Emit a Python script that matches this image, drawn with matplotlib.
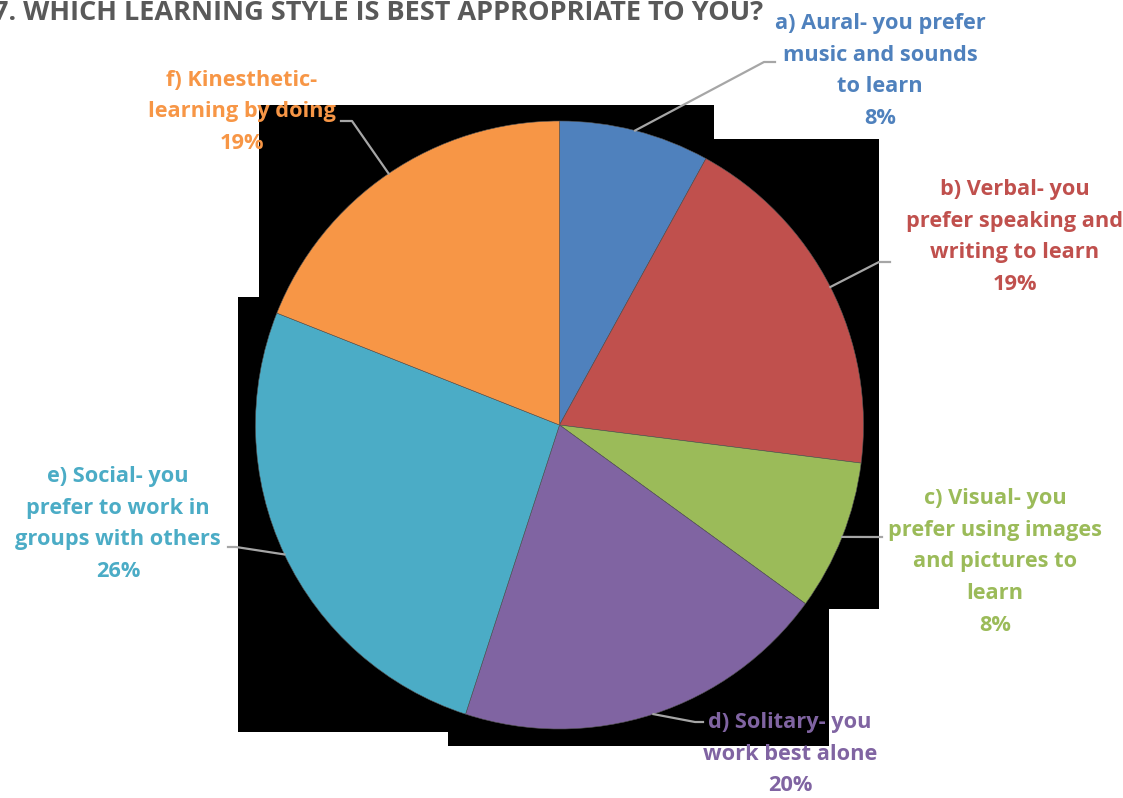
import matplotlib.pyplot as plt
import numpy as np
from matplotlib.patches import Polygon

W, H = 1123, 798

categories = [
    "a) Aural- you prefer\nmusic and sounds\nto learn",
    "b) Verbal- you\nprefer speaking and\nwriting to learn",
    "c) Visual- you\nprefer using images\nand pictures to\nlearn",
    "d) Solitary- you\nwork best alone",
    "e) Social- you\nprefer to work in\ngroups with others",
    "f) Kinesthetic-\nlearning by doing",
]
percentages = [8, 19, 8, 20, 26, 19]
colors = ["#4F81BD", "#C0504D", "#9BBB59", "#8064A2", "#4BACC6", "#F79646"]

# label block centres and leader elbows, in pixel coords (y down)
label_pos = [(880, 71), (1015, 237), (995, 562), (790, 754), (118, 524), (242, 112)]
leader_elbow = [(764, 62), (879, 262), (870, 537), (695, 722), (236, 547), (352, 121)]
leader_end = [(775, 62), (890, 262), (882, 537), (703, 722), (228, 547), (341, 121)]

title = "7. WHICH LEARNING STYLE IS BEST APPROPRIATE TO YOU?"

# black backing left behind by the chart export
backdrop = [(259, 105), (714, 105), (714, 139), (879, 139), (879, 609), (829, 609),
            (829, 746), (448, 746), (448, 732), (238, 732), (238, 297), (259, 297)]

CX, CY, R = 559.5, 425, 304


def px(p):
    return (p[0], H - p[1])


def main():
    plt.rcParams["font.family"] = ["Open Sans", "DejaVu Sans"]
    fig = plt.figure(figsize=(W / 100, H / 100), dpi=100)
    ax = fig.add_axes([0, 0, 1, 1])

    ax.add_patch(Polygon([px(p) for p in backdrop], closed=True,
                         facecolor="black", edgecolor="none", zorder=0))

    wedges, _ = ax.pie(percentages, colors=colors, startangle=90, counterclock=False,
                       center=(CX, H - CY), radius=R,
                       wedgeprops=dict(edgecolor="#555555", linewidth=0.4))
    for w in wedges:
        w.set_zorder(1)
    ax.set_xlim(0, W)
    ax.set_ylim(0, H)
    ax.set_aspect("equal")
    ax.axis("off")

    for i, w in enumerate(wedges):
        mid = np.deg2rad((w.theta1 + w.theta2) / 2)
        start = (CX + R * np.cos(mid), H - CY + R * np.sin(mid))
        xs = [start[0], px(leader_elbow[i])[0], px(leader_end[i])[0]]
        ys = [start[1], px(leader_elbow[i])[1], px(leader_end[i])[1]]
        ax.plot(xs, ys, color="#A6A6A6", lw=1.6, zorder=2)
        ax.text(*px(label_pos[i]), f"{categories[i]}\n{percentages[i]}%",
                ha="center", va="center", color=colors[i], fontsize=15.7,
                fontweight="bold", linespacing=1.67, zorder=3)

    ax.text(763, H - 20, title, ha="right", va="baseline", color="#595959",
            fontsize=19.5, fontweight="bold", zorder=3)

    fig.savefig("out.png", dpi=100)


if __name__ == "__main__":
    main()
